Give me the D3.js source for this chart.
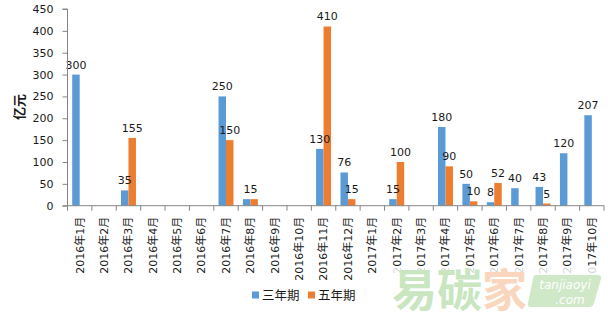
<!DOCTYPE html>
<html>
<head>
<meta charset="utf-8">
<script src="https://cdn.jsdelivr.net/npm/d3@7"></script>
<style>
  html, body { margin: 0; padding: 0; background: #fff; }
  svg { display: block; }
  text { font-family: "DejaVu Sans", "Noto Sans CJK SC", sans-serif; }
</style>
</head>
<body>
<svg id="chart" width="608" height="322"></svg>
<script>
const categories = ["2016年1月","2016年2月","2016年3月","2016年4月","2016年5月","2016年6月","2016年7月","2016年8月","2016年9月","2016年10月","2016年11月","2016年12月","2017年1月","2017年2月","2017年3月","2017年4月","2017年5月","2017年6月","2017年7月","2017年8月","2017年9月","2017年10月"];
const seriesNames = ["三年期", "五年期"];
const threeYear = [300,0,35,0,0,0,250,15,0,0,130,76,0,15,0,180,50,8,40,43,120,207];
const fiveYear  = [0,0,155,0,0,0,150,15,0,0,410,15,0,100,0,90,10,52,0,5,0,0];
const yTicks = [0,50,100,150,200,250,300,350,400,450];
const yTitle = "亿元";
const colors = ["#5B9BD5", "#ED7D31"];

const svg = d3.select("#chart");
const pLeft = 67.5, pRight = 604, pTop = 9, pBottom = 205.7;

const x = d3.scaleBand().domain(categories).range([pLeft, pRight]).paddingInner(0).paddingOuter(0);
const xs = d3.scaleBand().domain(seriesNames).range([0, x.bandwidth()]).paddingInner(0).paddingOuter(0.63);
const y = d3.scaleLinear().domain([0, 450]).range([pBottom, pTop]);

const seriesData = [threeYear, fiveYear];

// bars
seriesNames.forEach((s, si) => {
  svg.append("g").selectAll("rect")
    .data(categories.map((c, i) => ({c, v: seriesData[si][i]})).filter(d => d.v > 0))
    .join("rect")
    .attr("x", d => x(d.c) + xs(s))
    .attr("width", xs.bandwidth())
    .attr("y", d => y(d.v))
    .attr("height", d => y(0) - y(d.v))
    .attr("fill", colors[si]);
});

// labels
const labels = [];
categories.forEach((c, i) => {
  const a = threeYear[i], b = fiveYear[i];
  if (a > 0 && b > 0 && a === b) {
    labels.push({x: x(c) + x.bandwidth() / 2, v: a});
  } else {
    if (a > 0) labels.push({x: x(c) + xs(seriesNames[0]) + xs.bandwidth() / 2, v: a});
    if (b > 0) labels.push({x: x(c) + xs(seriesNames[1]) + xs.bandwidth() / 2, v: b});
  }
});
svg.append("g").selectAll("text")
  .data(labels)
  .join("text")
  .attr("x", d => d.x)
  .attr("y", d => y(d.v) - 6)
  .attr("text-anchor", "middle")
  .attr("font-size", 11)
  .attr("fill", "#1a1a1a")
  .text(d => d.v);

// y axis
const yAxis = d3.axisLeft(y).tickValues(yTicks).tickSize(5).tickPadding(9);
const gy = svg.append("g").attr("transform", `translate(${pLeft},0)`).call(yAxis);
gy.select(".domain").attr("stroke", "#868686").attr("d", `M-5,${pTop}H0V${pBottom}`);
gy.selectAll(".tick line").attr("stroke", "#868686");
gy.selectAll(".tick text").attr("font-size", 11).attr("fill", "#1a1a1a")
  .attr("font-family", "DejaVu Sans, sans-serif");

// x axis
const xAxis = d3.axisBottom(x).tickSize(0).tickFormat(d => d);
const gx = svg.append("g").attr("transform", `translate(0,${pBottom})`).call(xAxis);
gx.select(".domain").attr("stroke", "#868686").attr("d", `M${pLeft - 5},0H${pRight}`);
gx.selectAll(".tick text")
  .attr("font-size", 11)
  .attr("fill", "#1a1a1a")
  .attr("text-anchor", "end")
  .attr("transform", "rotate(-90)")
  .attr("x", -11)
  .attr("y", 0)
  .attr("dy", "0.35em");
// category boundary ticks
const bounds = categories.map(c => x(c)).concat([pRight]);
svg.append("g").selectAll("line")
  .data(bounds)
  .join("line")
  .attr("x1", d => d).attr("x2", d => d)
  .attr("y1", pBottom).attr("y2", pBottom + 5)
  .attr("stroke", "#868686");

// y title
svg.append("text")
  .attr("transform", `translate(24,107) rotate(-90)`)
  .attr("text-anchor", "middle")
  .attr("font-size", 13)
  .attr("font-weight", "bold")
  .attr("fill", "#1a1a1a")
  .text(yTitle);

// legend
const legendX = [252, 308];
seriesNames.forEach((s, i) => {
  svg.append("rect").attr("x", legendX[i]).attr("y", 291.5).attr("width", 7).attr("height", 7).attr("fill", colors[i]);
  svg.append("text").attr("x", legendX[i] + 10).attr("y", 299.5)
    .attr("font-size", 12.5).attr("fill", "#1a1a1a")
    .attr("font-family", "Noto Sans CJK SC, sans-serif")
    .text(s);
});

// watermark
const wm = svg.append("g");
wm.append("rect").attr("x", 385).attr("y", 266).attr("width", 223).attr("height", 56).attr("fill", "#fff").attr("opacity", 0.8);
wm.append("text").attr("x", 392).attr("y", 307).attr("font-size", 45).attr("font-weight", "bold")
  .attr("font-family", "Noto Sans CJK SC, sans-serif").attr("fill", "#c9e6c1").text("易碳");
wm.append("text").attr("x", 482).attr("y", 307).attr("font-size", 45).attr("font-weight", "bold")
  .attr("font-family", "Noto Sans CJK SC, sans-serif").attr("fill", "#f9d6bd").text("家");
wm.append("path").attr("d", "M536,275 H598 Q602,275 601,279 L594,303 Q593,307 589,307 H531 Q527,307 528,303 L533,279 Q534,275 536,275 Z")
  .attr("fill", "#cfe8c8");
wm.append("text").attr("x", 565).attr("y", 289).attr("text-anchor", "middle").attr("font-size", 12)
  .attr("font-style", "italic").attr("fill", "#fff").text("tanjiaoyi");
wm.append("text").attr("x", 570).attr("y", 304).attr("text-anchor", "middle").attr("font-size", 12)
  .attr("font-style", "italic").attr("fill", "#fff").text(".com");
</script>
</body>
</html>
